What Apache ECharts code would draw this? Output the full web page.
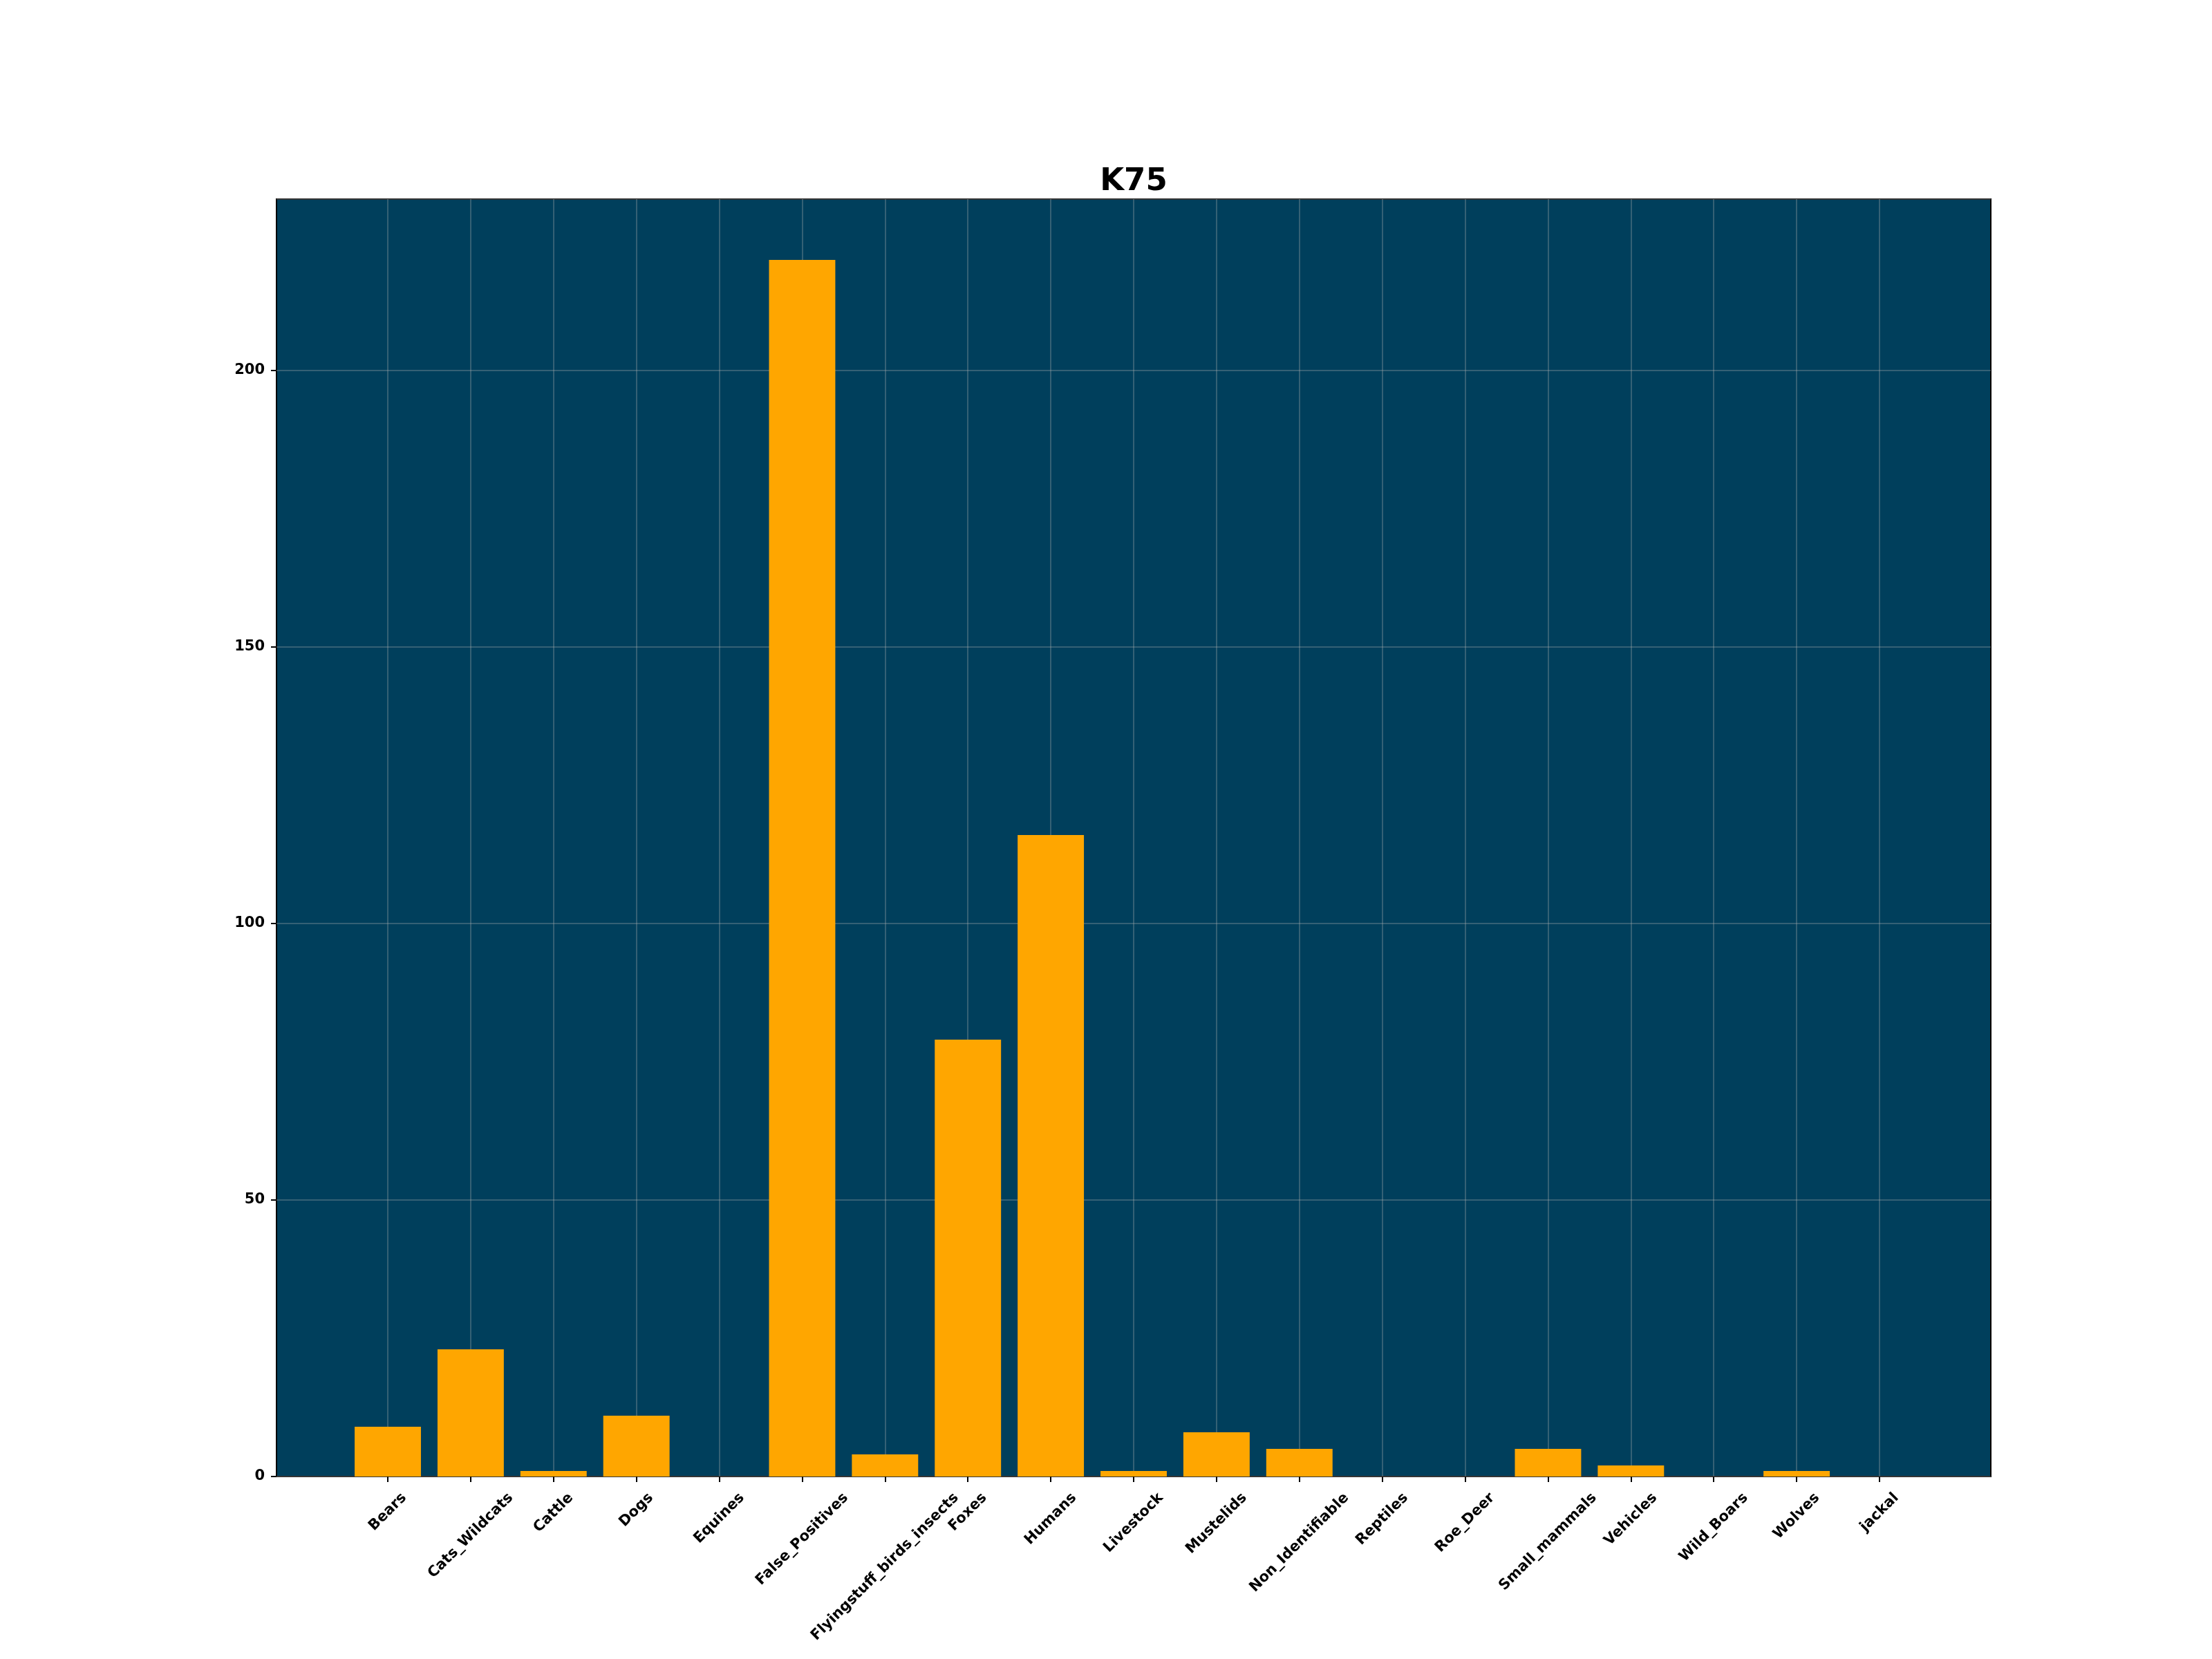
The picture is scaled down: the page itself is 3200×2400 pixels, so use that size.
<!DOCTYPE html>
<html>
<head>
<meta charset="utf-8">
<title>K75</title>
<script src="https://cdn.jsdelivr.net/npm/echarts@6/dist/echarts.min.js"></script>
<style>
  html, body { margin: 0; padding: 0; background: #fff; }
  #chart { width: 3200px; height: 2400px; }
</style>
</head>
<body>
<div id="chart"></div>
<script>
// data
const categories = ['Bears', 'Cats_Wildcats', 'Cattle', 'Dogs', 'Equines', 'False_Positives',
  'Flyingstuff_birds_insects', 'Foxes', 'Humans', 'Livestock', 'Mustelids', 'Non_Identifiable',
  'Reptiles', 'Roe_Deer', 'Small_mammals', 'Vehicles', 'Wild_Boars', 'Wolves', 'jackal']
const counts = [9, 23, 1, 11, 0, 220, 4, 79, 116, 1, 8, 5, 0, 0, 5, 2, 0, 1, 0]
const yMax = 231
const yStep = 50

const chartDom = document.getElementById('chart')
const myChart = echarts.init(chartDom)

const FONT = 'DejaVu Sans'
const FS = 21
const bg = '#003f5c'
const gridColor = 'rgba(176,176,176,0.3)'

// rotated labels sit centred under their tick (matplotlib style):
// an empty first line and a blank tail push each one down by half its own length
const ctx = document.createElement('canvas').getContext('2d')
ctx.font = 'bold ' + FS + 'px "' + FONT + '"'
const labelRich = {
  t: { fontFamily: FONT, fontWeight: 'bold', fontSize: FS, color: '#000', height: 23, lineHeight: 23 }
}
categories.forEach((name, i) => {
  const shift = (ctx.measureText(name).width + 24) / 2
  labelRich['g' + i] = { height: shift, lineHeight: shift, fontSize: 1 }
  labelRich['s' + i] = { width: shift, height: 23, lineHeight: 23, fontSize: 1 }
})

const option = {
  animation: false,
  backgroundColor: '#fff',
  title: {
    text: 'K75',
    left: 1635,
    top: 236,
    textAlign: 'center',
    textStyle: { fontFamily: FONT, fontWeight: 'bold', fontSize: 45, color: '#000' }
  },
  grid: [
    // full axes box (background + spines + y axis)
    { left: 400, top: 288, width: 2480, height: 1848, show: true, backgroundColor: bg,
      borderColor: '#000', borderWidth: 2, z: 0, outerBoundsMode: 'none', containLabel: false },
    // band from first to last category
    { left: 561, top: 288, width: 2158, height: 1848, show: false,
      outerBoundsMode: 'none', containLabel: false }
  ],
  xAxis: [
    { gridIndex: 0, type: 'value', min: 0, max: 1, show: false },
    {
      gridIndex: 1,
      type: 'category',
      data: categories,
      boundaryGap: false,
      axisLine: { show: false },
      axisTick: { show: true, length: 8, lineStyle: { color: '#000', width: 2 } },
      splitLine: { show: true, lineStyle: { color: gridColor, width: 2 } },
      axisLabel: {
        interval: 0,
        rotate: 45,
        align: 'center',
        verticalAlign: 'middle',
        margin: 19,
        fontFamily: FONT,
        fontWeight: 'bold',
        fontSize: FS,
        color: '#000',
        formatter: (value, i) => '{g' + i + '| }\n{t|' + value + '}{s' + i + '| }',
        rich: labelRich
      }
    }
  ],
  yAxis: [
    {
      gridIndex: 0,
      type: 'value',
      min: 0,
      max: yMax,
      interval: yStep,
      axisLine: { show: false },
      axisTick: { show: true, length: 8, lineStyle: { color: '#000', width: 2 } },
      splitLine: { show: true, lineStyle: { color: gridColor, width: 2 } },
      axisLabel: {
        showMaxLabel: false,
        margin: 17,
        fontFamily: FONT,
        fontWeight: 'bold',
        fontSize: FS,
        color: '#000'
      }
    },
    { gridIndex: 1, type: 'value', min: 0, max: yMax, show: false }
  ],
  series: [
    {
      type: 'bar',
      xAxisIndex: 1,
      yAxisIndex: 1,
      data: counts,
      barWidth: '80%',
      clip: false,
      itemStyle: { color: '#ffa600' },
      z: 3
    }
  ]
}

myChart.setOption(option)
</script>
</body>
</html>
